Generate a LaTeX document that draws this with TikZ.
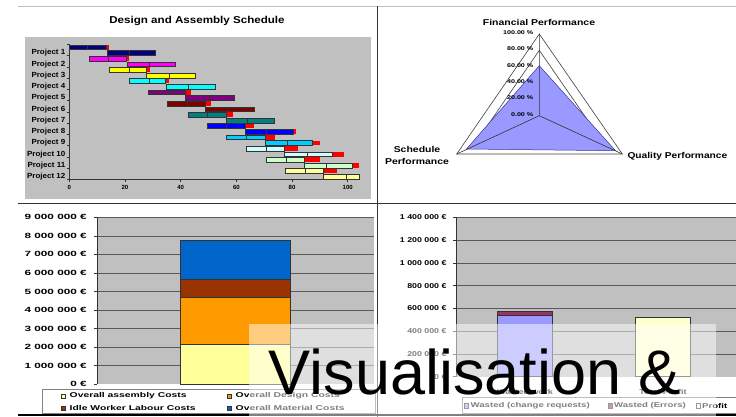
\documentclass[tikz,border=0pt]{standalone}
\usepackage{fontspec}
\setmainfont{Liberation Sans}
\usepackage{graphicx}
\usetikzlibrary{calc}
\newcommand\Wd[2]{\scalebox{#1}[1]{#2}}
\definecolor{plotgray}{HTML}{C0C0C0}
\definecolor{g1}{HTML}{000080}
\definecolor{g2}{HTML}{FF00FF}
\definecolor{g3}{HTML}{FFFF00}
\definecolor{g4}{HTML}{00FFFF}
\definecolor{g5}{HTML}{800080}
\definecolor{g6}{HTML}{800000}
\definecolor{g7}{HTML}{008080}
\definecolor{g8}{HTML}{0000FF}
\definecolor{g9}{HTML}{00CCFF}
\definecolor{g10}{HTML}{CCFFFF}
\definecolor{g11}{HTML}{CCFFCC}
\definecolor{g12}{HTML}{FFFF99}
\definecolor{radfill}{HTML}{9999FF}
\definecolor{radline}{HTML}{333399}
\definecolor{cyell}{HTML}{FFFF99}
\definecolor{corange}{HTML}{FF9900}
\definecolor{cbrown}{HTML}{993300}
\definecolor{cblue}{HTML}{0066CC}
\definecolor{cwaste}{HTML}{9999FF}
\definecolor{cerr}{HTML}{993366}
\definecolor{cprofit}{HTML}{FFFFCC}
\begin{document}
\begin{tikzpicture}[x=1pt,y=-1pt,
  pl/.style={font=\bfseries\fontsize{7.4}{8}\selectfont, inner sep=0pt, anchor=east},
  tk/.style={font=\bfseries\fontsize{6}{6}\selectfont, inner sep=0pt},
  ttl/.style={font=\bfseries\fontsize{10}{10}\selectfont, inner sep=0pt},
  rl/.style={font=\bfseries\fontsize{8.5}{12.5}\selectfont, inner sep=0pt},
  rt/.style={font=\bfseries\fontsize{5.5}{6}\selectfont, inner sep=0pt, anchor=east},
  yl/.style={font=\bfseries\fontsize{7.5}{8}\selectfont, inner sep=0pt, anchor=east},
  yr/.style={font=\bfseries\fontsize{7}{8}\selectfont, inner sep=0pt, anchor=east},
  lg/.style={font=\bfseries\fontsize{7}{8}\selectfont, inner sep=0pt, anchor=west},
  mk/.style={draw=black!80, line width=0.4pt},
  gridl/.style={black!65, line width=0.7pt},
  ax/.style={black!80, line width=0.6pt},
  barline/.style={draw=black!80, line width=0.5pt},
  ring/.style={draw=black!75, line width=0.6pt},
]
\useasboundingbox (0,0) rectangle (736,417);
\fill[white] (0,0) rectangle (736,417);

% ---------------- Gantt chart ----------------
\fill[plotgray] (25,37.3) rectangle (370.7,199);
\node[ttl] (gtitle) at (197,21) {\Wd{1.16}{Design and Assembly Schedule}};
\begin{scope}[shift={(69.3,47.3)}, x=2.784pt, y=-5.625pt]
\foreach \r/\s/\m/\e/\d/\c in {
1/0/6.6/13.2/14.4/g1, 2/13.7/21.5/31.0/31.0/g1,
3/7.2/14.1/20.6/21.6/g2, 4/20.8/28.6/38.2/38.2/g2,
5/14.4/21.6/27.8/29.0/g3, 6/27.8/35.9/45.4/45.4/g3,
7/21.4/28.6/34.6/35.8/g4, 8/35.0/42.9/52.3/52.3/g4,
9/28.4/35.6/41.8/43.7/g5, 10/41.8/50.2/59.3/59.3/g5,
11/35.2/42.5/49.0/50.9/g6, 12/49.0/57.2/66.5/66.5/g6,
13/42.8/49.6/56.2/58.9/g7, 14/56.2/64.0/73.7/73.7/g7,
15/49.6/56.2/63.1/66.3/g8, 16/63.1/70.9/80.5/81.3/g8,
17/56.5/63.7/70.3/73.9/g9, 18/70.3/78.3/87.3/90.0/g9,
19/63.7/70.9/77.2/82.0/g10, 20/77.2/85.3/94.5/98.8/g10,
21/70.9/77.8/84.4/90.0/g11, 22/84.4/92.4/101.7/104.0/g11,
23/77.5/84.9/91.2/96.0/g12, 24/91.2/99.6/104.1/104.1/g12}{
  \fill[red] (\e,{\r-1.43}) rectangle (\d,{\r-0.57});
  \draw[barline, fill=\c] (\s,{\r-1.43}) rectangle (\e,{\r-0.57});
  \draw[black!80, line width=0.5pt] (\m,{\r-1.43}) -- (\m,{\r-0.57});
}
\end{scope}
\draw[ax] (69.3,44.5) -- (69.3,179.5) -- (360,179.5);
\foreach \k in {0,...,12} \draw[ax] (66.5,{44.5+11.25*\k}) -- (69.3,{44.5+11.25*\k});
\foreach \k in {1,...,12} \node[pl] (p\k) at (65.5,{41.7+11.25*\k}) {\Wd{1.08}{Project \k}};
\foreach \v in {0,20,...,100} {
  \draw[ax] ({69.3+2.784*\v},179.5) -- ({69.3+2.784*\v},182);
  \node[tk] (gx\v) at ({69.3+2.784*\v},187.5) {\v};
}

% ---------------- Radar chart ----------------
\coordinate (C) at (539.3,115.7);
\coordinate (T) at (539.3,34);
\coordinate (L) at (456.7,154);
\coordinate (R) at (622.3,154);
\draw[ring] (T) -- (L) -- (R) -- cycle;
\draw[ring] ($(C)!0.8!(T)$) -- ($(C)!0.8!(L)$) -- ($(C)!0.8!(R)$) -- cycle;
\draw[fill=radfill, draw=radline, line width=0.5pt] (539.3,65.7) -- (466.5,149) -- (615.5,150.7) -- cycle;
\draw[black!80, line width=0.6pt] (C) -- (T) (C) -- (L) (C) -- (R);
\foreach \p/\t in {100/100.00 \%, 80/80.00 \%, 60/60.00 \%, 40/40.00 \%, 20/20.00 \%, 0/0.00 \%}
  \node[rt] (rt\p) at (533.5,{115.7-0.817*\p-1.5}) {\Wd{1.3}{\t}};
\node[rl] (fin) at (539,22.5) {\Wd{1.23}{Financial Performance}};
\node[rl, align=center] (sch) at (417,155.5) {\Wd{1.23}{Schedule}\\\Wd{1.23}{Performance}};
\node[rl, anchor=west] (qua) at (627.3,156) {\Wd{1.2}{Quality Performance}};

% ---------------- Cost chart (bottom left) ----------------
\fill[plotgray] (97,217.3) rectangle (374,384.3);
\foreach \v in {1,...,9} \draw[gridl] (97,{384.3-18.555*\v}) -- (374,{384.3-18.555*\v});
\draw[ax] (97,217.3) -- (97,384.3);
\foreach \v/\t in {0/0 €, 1/1 000 000 €, 2/2 000 000 €, 3/3 000 000 €, 4/4 000 000 €, 5/5 000 000 €, 6/6 000 000 €, 7/7 000 000 €, 8/8 000 000 €, 9/9 000 000 €} {
  \draw[ax] (93.5,{384.3-18.555*\v}) -- (97,{384.3-18.555*\v});
  \node[yl] (yl\v) at (87,{384.3-18.555*\v}) {\Wd{1.57}{\t}};
}
\draw[barline, fill=cyell] (180,384.3) rectangle (290,344);
\draw[barline, fill=corange] (180,344) rectangle (290,297.7);
\draw[barline, fill=cbrown] (180,297.7) rectangle (290,279);
\draw[barline, fill=cblue] (180,279) rectangle (290,240);
\draw[draw=black!50, fill=white, line width=0.6pt] (42,389.3) rectangle (375,413.3);
\draw[mk, fill=cyell] (61,393.7) rectangle (65.5,398);
\node[lg] (l1) at (69.5,395.7) {\Wd{1.48}{Overall assembly Costs}};
\draw[mk, fill=cbrown] (61,405.7) rectangle (65.5,410);
\node[lg] (l2) at (69.5,407.7) {\Wd{1.48}{Idle Worker Labour Costs}};
\draw[mk, fill=corange] (227,393.7) rectangle (231.5,398);
\node[lg] (l3) at (235.5,395.7) {\Wd{1.48}{Overall Design Costs}};
\draw[mk, fill=cblue] (227,405.7) rectangle (231.5,410);
\node[lg] (l4) at (235.5,407.7) {\Wd{1.48}{Overall Material Costs}};

% ---------------- Profit chart (bottom right) ----------------
\fill[plotgray] (456,217.3) rectangle (736,376.7);
\foreach \v in {1,...,7} \draw[gridl] (456,{376.7-22.77*\v}) -- (736,{376.7-22.77*\v});
\draw[ax] (456,217.3) -- (456,376.7);
\foreach \v/\t in {0/0 €, 1/200 000 €, 2/400 000 €, 3/600 000 €, 4/800 000 €, 5/1 000 000 €, 6/1 200 000 €, 7/1 400 000 €} {
  \draw[ax] (452.5,{376.7-22.77*\v}) -- (456,{376.7-22.77*\v});
  \node[yr] (yr\v) at (446.7,{376.7-22.77*\v}) {\Wd{1.26}{\t}};
}
\draw[barline, fill=cwaste] (497.7,376.7) rectangle (552.3,315);
\draw[barline, fill=cerr] (497.7,315) rectangle (552.3,311);
\draw[barline, fill=cprofit] (635.7,376.7) rectangle (690.7,317.3);
\node[lg, anchor=center] (xw) at (525,391.7) {\Wd{1.3}{Wasted work}};
\node[lg, anchor=center] (xp) at (663,391.7) {\Wd{1.3}{Total Profit}};
\draw[draw=black!50, fill=white, line width=0.6pt] (462.3,397.7) rectangle (740,413.3);
\draw[mk, fill=cwaste] (464.3,403.5) rectangle (468.5,407.8);
\node[lg] (r1) at (470.5,405.7) {\Wd{1.37}{Wasted (change requests)}};
\draw[mk, fill=cerr] (608.3,403.5) rectangle (612.5,407.8);
\node[lg] (r2) at (614,405.7) {\Wd{1.37}{Wasted (Errors)}};
\draw[mk, fill=cprofit] (695.7,403.5) rectangle (700,407.8);
\node[lg] (r3) at (702,405.7) {\Wd{1.37}{Profit}};

% ---------------- separators ----------------
\draw[black!25, line width=0.8pt] (18,6) -- (736,6);
\draw[black!80, line width=0.8pt] (377.5,6) -- (377.5,417);
\draw[black!80, line width=0.8pt] (18,203) -- (736,203);
\draw[black, line width=1.5pt] (18,414.8) -- (736,414.8);

% ---------------- overlay title ----------------
\fill[white, opacity=0.5] (249,324) rectangle (716,417);
\node[font=\fontsize{63}{63}\selectfont, anchor=base west, inner sep=0pt] (vis) at (268.5,394.3) {Visualisation \&};
\end{tikzpicture}
\end{document}
